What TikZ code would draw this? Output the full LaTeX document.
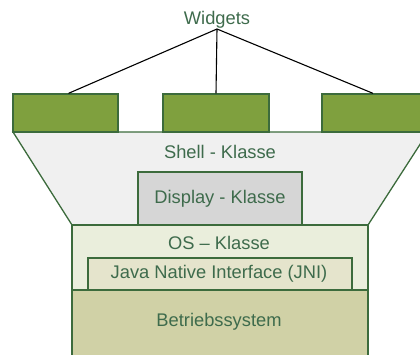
\documentclass[tikz,border=0pt]{standalone}
\usepackage{fontspec}
\setmainfont{Liberation Sans}
\definecolor{wgreen}{HTML}{7FA03E}
\definecolor{bgreen}{HTML}{3C6B3C}
\definecolor{tgreen}{HTML}{3E6B4C}
\definecolor{shellfill}{HTML}{F0F0F0}
\definecolor{dispfill}{HTML}{D6D6D6}
\definecolor{osfill}{HTML}{EAEEDC}
\definecolor{jnifill}{HTML}{E5E4CC}
\definecolor{bsfill}{HTML}{D0D1A6}
\tikzset{
  box/.style={draw=bgreen, line width=1.3pt},
  lbl/.style={text=tgreen, font=\fontsize{18.3}{21}\selectfont, inner sep=0pt},
  conn/.style={draw=black, line width=1.1pt},
}
\begin{document}
\begin{tikzpicture}[x=1pt,y=-1pt]
\useasboundingbox (0,0) rectangle (420,354);
\clip (0,0) rectangle (420,354);
% shell trapezoid
\draw[box, fill=shellfill] (13,132) -- (428,132) -- (368,225) -- (72,225) -- cycle;
% widgets
\node[box, fill=wgreen, minimum width=105pt, minimum height=38pt, inner sep=0pt] (w1) at (65.5,113) {};
\node[box, fill=wgreen, minimum width=106pt, minimum height=38pt, inner sep=0pt] (w2) at (216,113) {};
\node[box, fill=wgreen, minimum width=106pt, minimum height=38pt, inner sep=0pt] (w3) at (375,113) {};
\node[lbl, anchor=south, inner sep=1pt] (wt) at (217,29) {Widgets};
\draw[conn] (wt.south) -- ([xshift=3pt]w1.north);
\draw[conn] (wt.south) -- (w2.north);
\draw[conn] (wt.south) -- ([xshift=-2pt]w3.north);
\node[lbl] (shell) at (220,152) {Shell - Klasse};
% display
\node[box, fill=dispfill, minimum width=164pt, minimum height=53pt, inner sep=0pt] (disp) at (220,198.5) {};
\node[lbl] (dispt) at (220,199) {Display - Klasse};
% OS
\node[box, fill=osfill, minimum width=296pt, minimum height=65pt, inner sep=0pt] (os) at (220,257.5) {};
\node[lbl] (ost) at (219,243) {OS -- Klasse};
\node[box, fill=jnifill, minimum width=264pt, minimum height=32pt, inner sep=0pt] (jni) at (220,274) {};
\node[lbl] (jnit) at (219,273.5) {Java Native Interface (JNI)};
% Betriebssystem
\node[box, fill=bsfill, minimum width=296pt, minimum height=75pt, inner sep=0pt] (bs) at (220,327.5) {};
\node[lbl] (bst) at (219,322) {Betriebssystem};
\end{tikzpicture}
\end{document}
